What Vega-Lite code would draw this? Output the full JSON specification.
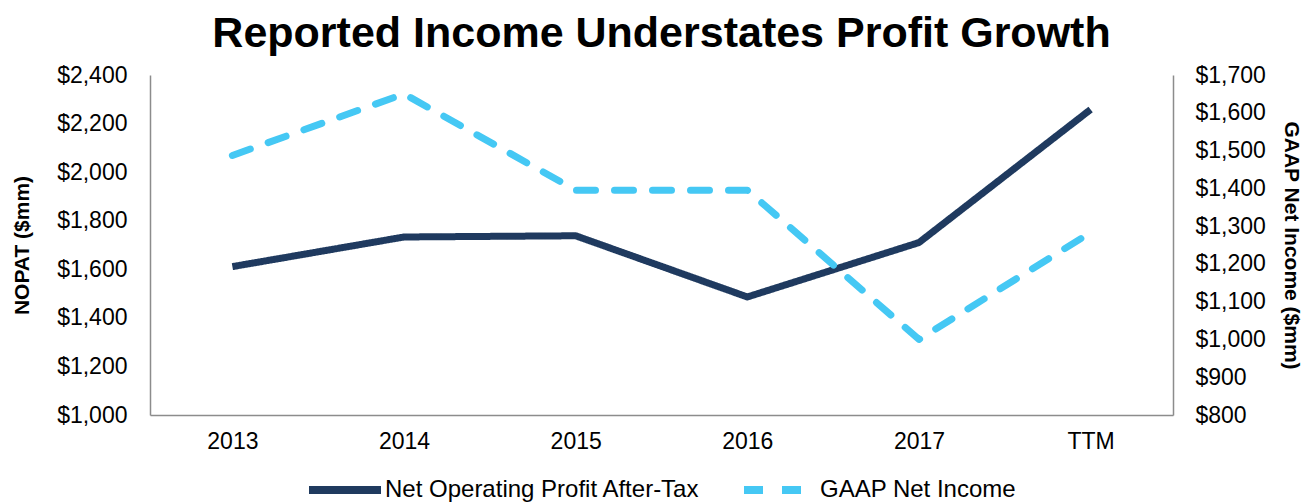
{
  "$schema": "https://vega.github.io/schema/vega-lite/v6.json",
  "width": 1023,
  "height": 340,
  "autosize": {"type": "none"},
  "padding": {"left": 150, "top": 75, "right": 136, "bottom": 89},
  "background": "white",
  "title": {
    "text": "Reported Income Understates Profit Growth",
    "font": "Liberation Sans",
    "fontSize": 43,
    "fontWeight": "bold",
    "color": "#000000",
    "anchor": "middle",
    "offset": 8
  },
  "data": {
    "values": [
      {"period": "2013", "series": "Net Operating Profit After-Tax", "value": 1611},
      {"period": "2014", "series": "Net Operating Profit After-Tax", "value": 1733},
      {"period": "2015", "series": "Net Operating Profit After-Tax", "value": 1738},
      {"period": "2016", "series": "Net Operating Profit After-Tax", "value": 1486},
      {"period": "2017", "series": "Net Operating Profit After-Tax", "value": 1710},
      {"period": "TTM", "series": "Net Operating Profit After-Tax", "value": 2258},
      {"period": "2013", "series": "GAAP Net Income", "value": 1487},
      {"period": "2014", "series": "GAAP Net Income", "value": 1650},
      {"period": "2015", "series": "GAAP Net Income", "value": 1395},
      {"period": "2016", "series": "GAAP Net Income", "value": 1395},
      {"period": "2017", "series": "GAAP Net Income", "value": 1000},
      {"period": "TTM", "series": "GAAP Net Income", "value": 1283}
    ]
  },
  "encoding": {
    "x": {
      "field": "period",
      "type": "ordinal",
      "sort": ["2013", "2014", "2015", "2016", "2017", "TTM"],
      "scale": {"type": "point", "padding": 0.48},
      "axis": {
        "title": null,
        "labelAngle": 0,
        "ticks": false,
        "labelPadding": 15,
        "labelFontSize": 23,
        "labelFont": "Liberation Sans",
        "labelColor": "#000000",
        "domainColor": "#8c8c8c",
        "domainWidth": 1.5,
        "grid": false
      }
    },
    "color": {
      "field": "series",
      "type": "nominal",
      "scale": {
        "domain": ["Net Operating Profit After-Tax", "GAAP Net Income"],
        "range": ["#1F3A5F", "#45C8F4"]
      },
      "legend": {
        "title": null,
        "orient": "none",
        "legendX": 155,
        "legendY": 375,
        "direction": "horizontal",
        "labelFontSize": 24,
        "labelFont": "Liberation Sans",
        "labelColor": "#000000",
        "symbolType": "stroke",
        "symbolSize": 5184,
        "symbolStrokeWidth": 8,
        "columnPadding": 28,
        "labelOffset": 0,
        "labelLimit": 500
      }
    },
    "strokeDash": {
      "field": "series",
      "type": "nominal",
      "scale": {
        "domain": ["Net Operating Profit After-Tax", "GAAP Net Income"],
        "range": [[1, 0], [19, 19]]
      },
      "legend": {
        "title": null,
        "orient": "none",
        "legendX": 155,
        "legendY": 375,
        "direction": "horizontal",
        "labelFontSize": 24,
        "labelFont": "Liberation Sans",
        "labelColor": "#000000",
        "symbolType": "stroke",
        "symbolSize": 5184,
        "symbolStrokeWidth": 8,
        "columnPadding": 28,
        "labelOffset": 0,
        "labelLimit": 500
      }
    }
  },
  "layer": [
    {
      "transform": [{"filter": "datum.series === 'Net Operating Profit After-Tax'"}],
      "mark": {"type": "line", "strokeWidth": 7, "strokeJoin": "round"},
      "encoding": {
        "y": {
          "field": "value",
          "type": "quantitative",
          "scale": {"domain": [1000, 2400], "nice": false, "zero": false},
          "axis": {
            "orient": "left",
            "title": "NOPAT ($mm)",
            "titleFont": "Liberation Sans",
            "titleFontSize": 21,
            "titleFontWeight": "bold",
            "titleColor": "#000000",
            "titlePadding": 24,
            "values": [1000, 1200, 1400, 1600, 1800, 2000, 2200, 2400],
            "format": "$,.0f",
            "ticks": false,
            "grid": false,
            "labelPadding": 23,
            "labelFontSize": 23,
            "labelFont": "Liberation Sans",
            "labelColor": "#000000",
            "domainColor": "#8c8c8c",
            "domainWidth": 1.5
          }
        }
      }
    },
    {
      "transform": [{"filter": "datum.series === 'GAAP Net Income'"}],
      "mark": {"type": "line", "strokeWidth": 7, "strokeCap": "round", "strokeJoin": "round"},
      "encoding": {
        "y": {
          "field": "value",
          "type": "quantitative",
          "scale": {"domain": [800, 1700], "nice": false, "zero": false},
          "axis": {
            "orient": "right",
            "title": "GAAP Net Income ($mm)",
            "titleFont": "Liberation Sans",
            "titleFontSize": 21,
            "titleFontWeight": "bold",
            "titleColor": "#000000",
            "titlePadding": 15,
            "values": [800, 900, 1000, 1100, 1200, 1300, 1400, 1500, 1600, 1700],
            "format": "$,.0f",
            "ticks": false,
            "grid": false,
            "labelPadding": 22,
            "labelFontSize": 23,
            "labelFont": "Liberation Sans",
            "labelColor": "#000000",
            "domainColor": "#8c8c8c",
            "domainWidth": 1.5
          }
        }
      }
    }
  ],
  "resolve": {"scale": {"y": "independent"}},
  "config": {
    "view": {"stroke": null}
  }
}
